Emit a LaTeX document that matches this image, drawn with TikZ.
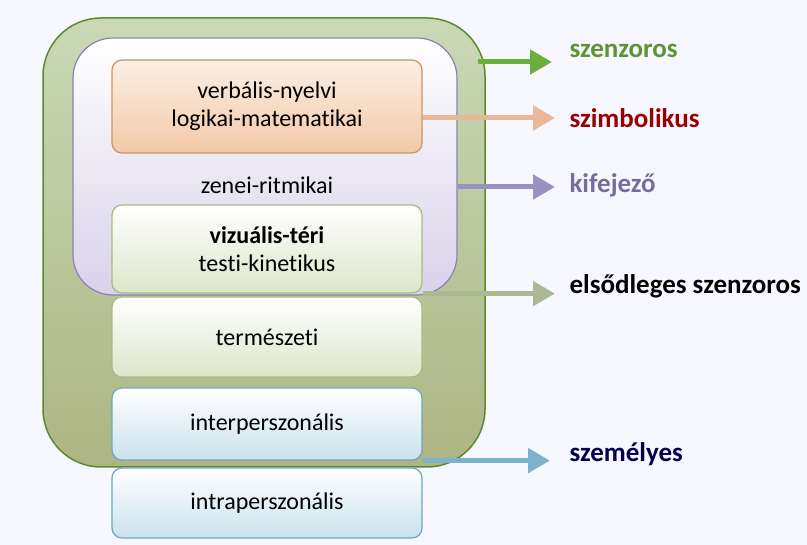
\documentclass[tikz,border=0pt]{standalone}
\usepackage{fontspec}
\setmainfont{Carlito}[Ligatures=NoCommon]
\usetikzlibrary{arrows.meta}
\definecolor{olivetop}{HTML}{C8D9B4}
\definecolor{olivebot}{HTML}{AEB584}
\definecolor{olivedk}{HTML}{5E8A2E}
\definecolor{lavfill}{HTML}{D9D2EA}
\definecolor{lavdk}{HTML}{8A80B6}
\definecolor{orfill}{HTML}{F3C9A6}
\definecolor{ordk}{HTML}{C99560}
\definecolor{grfill}{HTML}{DCE6C8}
\definecolor{grdk}{HTML}{A6BC7E}
\definecolor{blfill}{HTML}{C9E2EE}
\definecolor{bldk}{HTML}{6EA6C4}
\definecolor{grarrow}{HTML}{6CAE3C}
\definecolor{orarrow}{HTML}{EAB896}
\definecolor{lavarrow}{HTML}{9A90C2}
\definecolor{sagearrow}{HTML}{A9B994}
\definecolor{blarrow}{HTML}{7DB2CC}
\begin{document}
\begin{tikzpicture}[x=1pt,y=-1pt,font=\fontsize{24}{28}\selectfont,
  box/.style={rectangle,rounded corners=10pt,minimum width=310pt,align=center,line width=1.2pt},
  lab/.style={anchor=west,font=\fontsize{27}{30}\selectfont\bfseries},
  arr/.style={line width=5pt,-{Triangle[length=22pt,width=24pt]}}]
 \fill[white!97!blue] (0,0) rectangle (807,545);
 \useasboundingbox (0,0) rectangle (807,545);
 % nested frames
 \node[rectangle,rounded corners=58pt,draw=olivedk,line width=1.5pt,top color=olivetop,bottom color=olivebot,
   minimum width=442pt,minimum height=449pt] (outer) at (264,242.5) {};
 \node[rectangle,rounded corners=40pt,draw=lavdk,line width=1.2pt,top color=white,bottom color=lavfill,
   minimum width=384pt,minimum height=257pt] (lav) at (265,166.5) {};
 \node[box,draw=ordk,top color=orfill!30,bottom color=orfill,minimum height=93pt] (verb) at (267,106.5)
   {verbális-nyelvi\\logikai-matematikai};
 \node (zenei) at (267,185) {zenei-ritmikai};
 \node[box,draw=grdk,top color=white,bottom color=grfill,minimum height=88pt] (viz) at (267,249)
   {\textbf{vizuális-téri}\\testi-kinetikus};
 \node[box,draw=grdk,top color=white,bottom color=grfill,minimum height=80pt] (term) at (267,337) {természeti};
 \node[box,draw=bldk,top color=white,bottom color=blfill,minimum height=72pt] (inter) at (267,424) {interperszonális};
 \node[box,draw=bldk,top color=white,bottom color=blfill,minimum height=70pt] (intra) at (267,503) {intraperszonális};
 % labels
 \node[lab,text=grarrow!85!black] (szenz) at (566,51) {szenzoros};
 \node[lab,text=red!60!black] (szimb) at (566,118) {szimbolikus};
 \node[lab,text=lavdk!85!black] (kif) at (566,185) {kifejező};
 \node[lab,text=black] (elso) at (566,286) {elsődleges szenzoros};
 \node[lab,text=blue!30!black] (szem) at (566,454) {személyes};
 % arrows
 \draw[arr,grarrow] ([xshift=-8pt]outer.east |- 0,62) -- ([xshift=-14pt]szenz.west |- 0,62);
 \draw[arr,orarrow] (verb.east |- 0,118) -- ([xshift=-11pt]szimb.west |- 0,118);
 \draw[arr,lavarrow] (lav.east |- 0,187) -- ([xshift=-11pt]kif.west |- 0,187);
 \draw[arr,sagearrow] (viz.south east) -- ([xshift=-11pt]elso.west |- viz.south east);
 \draw[arr,blarrow] (inter.south east) -- ([xshift=-16pt]szem.west |- inter.south east);
\end{tikzpicture}
\end{document}
